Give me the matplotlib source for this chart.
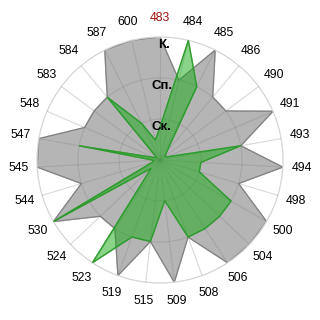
import numpy as np
import matplotlib.pyplot as plt

plt.rcParams['font.family'] = ['Liberation Sans', 'DejaVu Sans']

# categories, clockwise from the top
labels = ["483", "484", "485", "486", "490", "491", "493", "494", "498", "500",
          "504", "506", "508", "509", "515", "519", "523", "524", "530", "544",
          "545", "547", "548", "583", "584", "587", "600"]

gray_vals = [3, 2, 3, 2, 2, 3, 2, 3, 2, 3,
             3, 3, 2, 3, 2, 3, 2, 2, 3, 2,
             3, 3, 2, 2, 2, 3, 3]

green_vals = [0.8, 3, 2, 0.25, 0.15, 0.2, 2, 1, 1, 2,
              2, 2, 2, 1, 2, 2, 3, 0.3, 3, 0.2,
              0.15, 2, 0.15, 0.1, 2, 1, 0.5]

levels = [1, 2, 3]
level_names = ["Ск.", "Сп.", "К."]

n = len(labels)
angles = np.linspace(0, 2 * np.pi, n, endpoint=False)
ang_c = np.append(angles, angles[0])

fig = plt.figure(figsize=(3.2, 3.2), dpi=100)
ax = fig.add_axes([37 / 320, 37 / 320, 246 / 320, 246 / 320], polar=True)
ax.set_theta_zero_location("N")
ax.set_theta_direction(-1)

g = np.append(gray_vals, gray_vals[0])
ax.fill(ang_c, g, color="#b5b5b5", zorder=1)
ax.plot(ang_c, g, color="#828282", lw=0.9, zorder=2)

gr = np.append(green_vals, green_vals[0])
ax.fill(ang_c, gr, color="#14aa14", alpha=0.5, zorder=3)
ax.plot(ang_c, gr, color="#2e9a2e", lw=0.9, zorder=4)

ax.set_ylim(0, 3)
ax.set_yticks([1, 2])
ax.set_yticklabels([])
ax.set_xticks(angles)
ax.set_xticklabels(labels, fontsize=8.8)
for t in ax.get_xticklabels():
    if t.get_text() == "483":
        t.set_color("#a01010")
ax.tick_params(axis="x", pad=3)
ax.set_axisbelow(False)
ax.grid(True, color="#808080", alpha=0.3, lw=0.8, zorder=5)
ax.spines["polar"].set_color("#d5d5d5")
ax.spines["polar"].set_linewidth(0.9)

for r, name in zip(levels, level_names):
    ax.text(0.03, r - 0.04, name, ha="center", va="top", fontsize=9.5,
            fontweight="bold", color="black", zorder=6)

fig.savefig("out.png", dpi=100)
